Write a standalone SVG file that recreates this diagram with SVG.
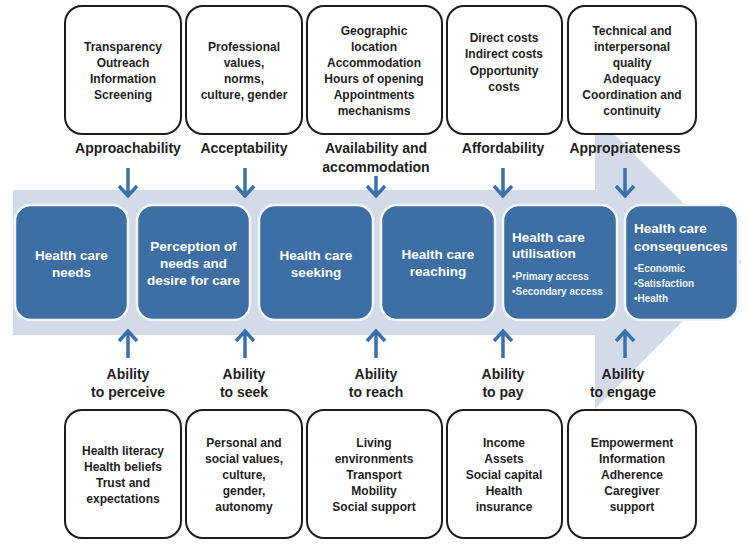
<svg xmlns="http://www.w3.org/2000/svg" width="750" height="547" viewBox="0 0 750 547">
<defs>
<style>
.bg{fill:#ffffff}
.band{fill:#d3dbe8}
.box{fill:#ffffff;stroke:#1c1c1c;stroke-width:2}
.blue{fill:#3d6fa4;stroke:#f2f5fa;stroke-width:2.5}
.t{font-family:"Liberation Sans",Arial,sans-serif;font-weight:bold;font-size:12px;fill:#1e1e1e;text-anchor:middle}
.lab{font-family:"Liberation Sans",Arial,sans-serif;font-weight:bold;font-size:14px;fill:#1e1e1e;text-anchor:middle}
.w{font-family:"Liberation Sans",Arial,sans-serif;font-weight:bold;font-size:13.5px;fill:#ffffff;text-anchor:middle}
.wl{font-family:"Liberation Sans",Arial,sans-serif;font-weight:bold;font-size:13.5px;fill:#ffffff}
.ws{font-family:"Liberation Sans",Arial,sans-serif;font-weight:bold;font-size:10px;fill:#eef3fa}
.arr{fill:none;stroke:#3a71aa;stroke-width:3.5;stroke-linejoin:miter}
</style>
</defs>
<rect class="bg" x="0" y="0" width="750" height="547"/>
<path id="band" class="band" d="M13,190 H595 V115 L742,262 L595,409 V335 H13 Z"/>

<g id="top-approachability"><rect class="box" x="65" y="6" width="116" height="128" rx="17"/>
<text class="t" x="123" y="51">Transparency</text><text class="t" x="123" y="67">Outreach</text><text class="t" x="123" y="83">Information</text><text class="t" x="123" y="99">Screening</text></g>
<g id="top-acceptability"><rect class="box" x="186" y="6" width="116" height="128" rx="17"/>
<text class="t" x="244" y="51">Professional</text><text class="t" x="244" y="67">values,</text><text class="t" x="244" y="83">norms,</text><text class="t" x="244" y="99">culture, gender</text></g>
<g id="top-availability"><rect class="box" x="307" y="6" width="135" height="128" rx="17"/>
<text class="t" x="374" y="35">Geographic</text><text class="t" x="374" y="51">location</text><text class="t" x="374" y="67">Accommodation</text><text class="t" x="374" y="83">Hours of opening</text><text class="t" x="374" y="99">Appointments</text><text class="t" x="374" y="115">mechanisms</text></g>
<g id="top-affordability"><rect class="box" x="447" y="6" width="115" height="128" rx="17"/>
<text class="t" x="504" y="42">Direct costs</text><text class="t" x="504" y="58">Indirect costs</text><text class="t" x="504" y="75">Opportunity</text><text class="t" x="504" y="91">costs</text></g>
<g id="top-appropriateness"><rect class="box" x="568" y="6" width="128" height="128" rx="17"/>
<text class="t" x="632" y="35">Technical and</text><text class="t" x="632" y="51">interpersonal</text><text class="t" x="632" y="67">quality</text><text class="t" x="632" y="83">Adequacy</text><text class="t" x="632" y="99">Coordination and</text><text class="t" x="632" y="115">continuity</text></g>

<g id="label-approachability"><text class="lab" x="128" y="153">Approachability</text></g>
<g id="label-acceptability"><text class="lab" x="244" y="153">Acceptability</text></g>
<g id="label-availability"><text class="lab" x="376" y="153">Availability and</text><text class="lab" x="376" y="172">accommodation</text></g>
<g id="label-affordability"><text class="lab" x="503" y="153">Affordability</text></g>
<g id="label-appropriateness"><text class="lab" x="625" y="153">Appropriateness</text></g>

<g id="connectors">
<path class="arr" d="M128,168 V196 M119,186 L128,196 L137,186"/>
<path class="arr" d="M245,168 V196 M236,186 L245,196 L254,186"/>
<path class="arr" d="M376,176 V196 M367,186 L376,196 L385,186"/>
<path class="arr" d="M503,168 V196 M494,186 L503,196 L512,186"/>
<path class="arr" d="M625,168 V196 M616,186 L625,196 L634,186"/>
<path class="arr" d="M128,358 V331 M119,341 L128,331 L137,341"/>
<path class="arr" d="M245,358 V331 M236,341 L245,331 L254,341"/>
<path class="arr" d="M376,358 V331 M367,341 L376,331 L385,341"/>
<path class="arr" d="M503,358 V331 M494,341 L503,331 L512,341"/>
<path class="arr" d="M625,358 V331 M616,341 L625,331 L634,341"/>
</g>

<g id="needs"><rect class="blue" x="15" y="205" width="113" height="115" rx="16"/>
<text class="w" x="71.5" y="260">Health care</text><text class="w" x="71.5" y="277">needs</text></g>
<g id="perception"><rect class="blue" x="137" y="205" width="113" height="115" rx="16"/>
<text class="w" x="193.5" y="251">Perception of</text><text class="w" x="193.5" y="268">needs and</text><text class="w" x="193.5" y="285">desire for care</text></g>
<g id="seeking"><rect class="blue" x="259" y="205" width="114" height="115" rx="16"/>
<text class="w" x="316" y="260">Health care</text><text class="w" x="316" y="277">seeking</text></g>
<g id="reaching"><rect class="blue" x="381" y="205" width="114" height="115" rx="16"/>
<text class="w" x="438" y="259">Health care</text><text class="w" x="438" y="276">reaching</text></g>
<g id="utilisation"><rect class="blue" x="503" y="205" width="114" height="115" rx="16"/>
<text class="wl" x="512" y="242">Health care</text><text class="wl" x="512" y="258">utilisation</text>
<text class="ws" x="512" y="280">•Primary access</text><text class="ws" x="512" y="295">•Secondary access</text></g>
<g id="consequences"><rect class="blue" x="625" y="205" width="113" height="115" rx="16"/>
<text class="wl" x="634" y="233">Health care</text><text class="wl" x="634" y="251">consequences</text>
<text class="ws" x="634" y="272">•Economic</text><text class="ws" x="634" y="287">•Satisfaction</text><text class="ws" x="634" y="302">•Health</text></g>

<g id="label-perceive"><text class="lab" x="128" y="379">Ability</text><text class="lab" x="128" y="397">to perceive</text></g>
<g id="label-seek"><text class="lab" x="244" y="379">Ability</text><text class="lab" x="244" y="397">to seek</text></g>
<g id="label-reach"><text class="lab" x="376" y="379">Ability</text><text class="lab" x="376" y="397">to reach</text></g>
<g id="label-pay"><text class="lab" x="503" y="379">Ability</text><text class="lab" x="503" y="397">to pay</text></g>
<g id="label-engage"><text class="lab" x="623" y="379">Ability</text><text class="lab" x="623" y="397">to engage</text></g>

<g id="bottom-perceive"><rect class="box" x="65" y="410" width="116" height="128" rx="17"/>
<text class="t" x="123" y="455">Health literacy</text><text class="t" x="123" y="471">Health beliefs</text><text class="t" x="123" y="487">Trust and</text><text class="t" x="123" y="503">expectations</text></g>
<g id="bottom-seek"><rect class="box" x="186" y="410" width="116" height="128" rx="17"/>
<text class="t" x="244" y="447">Personal and</text><text class="t" x="244" y="463">social values,</text><text class="t" x="244" y="479">culture,</text><text class="t" x="244" y="495">gender,</text><text class="t" x="244" y="511">autonomy</text></g>
<g id="bottom-reach"><rect class="box" x="307" y="410" width="135" height="128" rx="17"/>
<text class="t" x="374" y="447">Living</text><text class="t" x="374" y="463">environments</text><text class="t" x="374" y="479">Transport</text><text class="t" x="374" y="495">Mobility</text><text class="t" x="374" y="511">Social support</text></g>
<g id="bottom-pay"><rect class="box" x="447" y="410" width="115" height="128" rx="17"/>
<text class="t" x="504" y="447">Income</text><text class="t" x="504" y="463">Assets</text><text class="t" x="504" y="479">Social capital</text><text class="t" x="504" y="495">Health</text><text class="t" x="504" y="511">insurance</text></g>
<g id="bottom-engage"><rect class="box" x="568" y="410" width="128" height="128" rx="17"/>
<text class="t" x="632" y="447">Empowerment</text><text class="t" x="632" y="463">Information</text><text class="t" x="632" y="479">Adherence</text><text class="t" x="632" y="495">Caregiver</text><text class="t" x="632" y="511">support</text></g>
</svg>
